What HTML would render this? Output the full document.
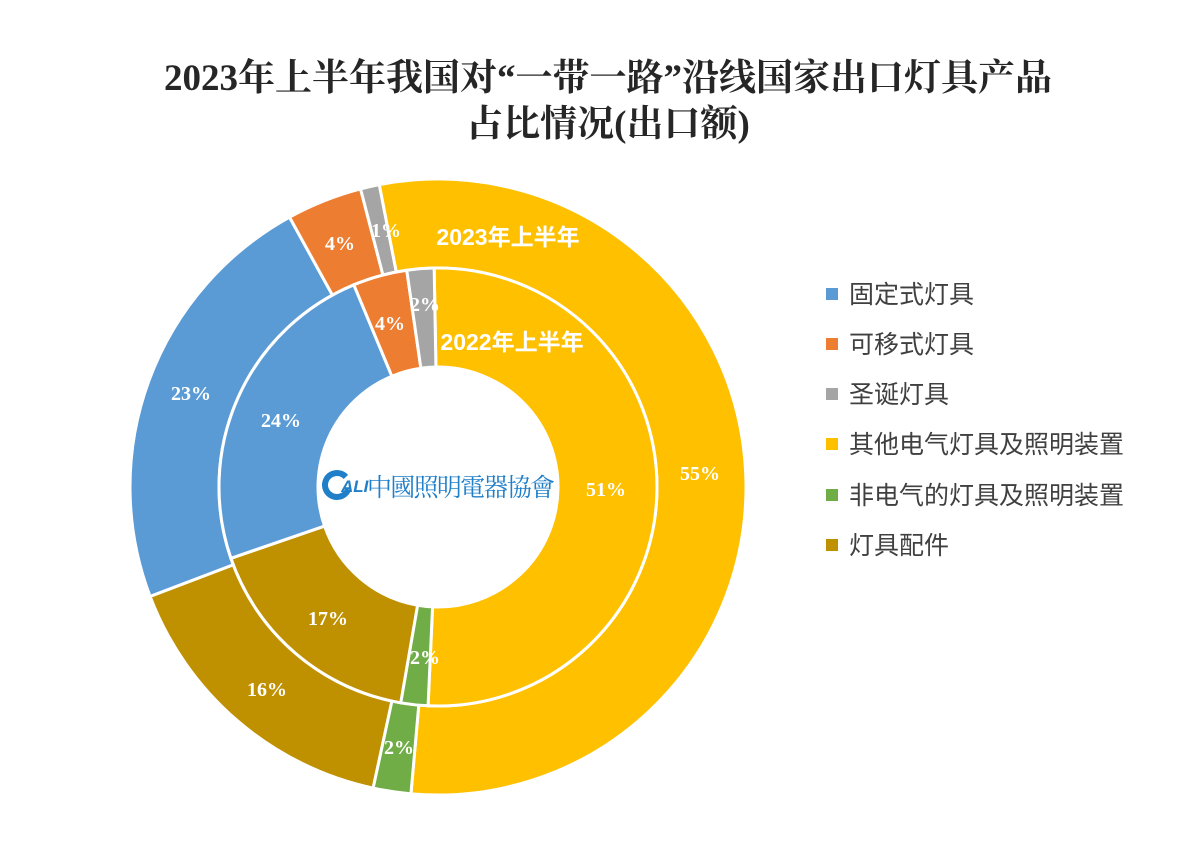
<!DOCTYPE html>
<html><head><meta charset="utf-8"><style>
html,body{margin:0;padding:0;background:#fff;width:1181px;height:862px;overflow:hidden}
</style></head><body>
<svg id="s" width="1181" height="862" xmlns="http://www.w3.org/2000/svg">
<text x="608" y="90" text-anchor="middle" font-family="Liberation Serif,Noto Serif CJK SC,serif" font-weight="bold" font-size="37" fill="#262626">2023年上半年我国对“一带一路”沿线国家出口灯具产品</text>
<text x="608" y="136" text-anchor="middle" font-family="Liberation Serif,Noto Serif CJK SC,serif" font-weight="bold" font-size="37" fill="#262626">占比情况(出口额)</text>
<g id="rings"></g>
<g font-family="Liberation Serif,Noto Serif CJK SC,serif" font-weight="bold" font-size="20" fill="#fff" text-anchor="middle">
<text x="700" y="480">55%</text>
<text x="606" y="496">51%</text>
<text x="191" y="400">23%</text>
<text x="281" y="427">24%</text>
<text x="340" y="250">4%</text>
<text x="390" y="330">4%</text>
<text x="386" y="237">1%</text>
<text x="425" y="311">2%</text>
<text x="328" y="625">17%</text>
<text x="267" y="696">16%</text>
<text x="425" y="664">2%</text>
<text x="399" y="754">2%</text>
</g>
<g font-family="Liberation Sans,Noto Sans CJK SC,sans-serif" font-weight="bold" font-size="23" fill="#fff" text-anchor="middle">
<text x="508" y="245">2023年上半年</text>
<text x="512" y="350">2022年上半年</text>
</g>
<circle cx="337" cy="485" r="12" fill="none" stroke="#1f7fc8" stroke-width="6" stroke-dasharray="62 14" transform="rotate(20 337 485)"/>
<text x="341" y="492" font-family="Liberation Sans,sans-serif" font-weight="bold" font-style="italic" font-size="17" fill="#1f7fc8">ALI</text>
<text x="367" y="496" font-family="Liberation Serif,Noto Serif CJK TC,serif" font-size="25" fill="#1f7fc8" textLength="188">中國照明電器協會</text>
<g font-family="Liberation Sans,Noto Sans CJK SC,sans-serif" font-size="25" fill="#404040">
<rect x="826" y="288" width="12" height="12" fill="#5b9bd5"/><text x="849" y="303">固定式灯具</text>
<rect x="826" y="338" width="12" height="12" fill="#ed7d31"/><text x="849" y="353">可移式灯具</text>
<rect x="826" y="388" width="12" height="12" fill="#a5a5a5"/><text x="849" y="403">圣诞灯具</text>
<rect x="826" y="438" width="12" height="12" fill="#ffc000"/><text x="849" y="453">其他电气灯具及照明装置</text>
<rect x="826" y="489" width="12" height="12" fill="#70ad47"/><text x="849" y="504">非电气的灯具及照明装置</text>
<rect x="826" y="539" width="12" height="12" fill="#bf9000"/><text x="849" y="554">灯具配件</text>
</g>
</svg>
<script>
var cx=438,cy=487,g=document.getElementById('rings');
function pt(r,a){a=(a-90)*Math.PI/180;return [cx+r*Math.cos(a),cy+r*Math.sin(a)];}
function arc(r0,r1,a0,a1,c){var l=(a1-a0)>180?1:0,p=pt(r1,a0),q=pt(r1,a1),s=pt(r0,a1),t=pt(r0,a0);
var d='M'+p+' A'+r1+','+r1+' 0 '+l+' 1 '+q+' L'+s+' A'+r0+','+r0+' 0 '+l+' 0 '+t+'Z';
var e=document.createElementNS('http://www.w3.org/2000/svg','path');e.setAttribute('d',d);e.setAttribute('fill',c);e.setAttribute('stroke','#fff');e.setAttribute('stroke-width','3');g.appendChild(e);}
var cols=['#ffc000','#70ad47','#bf9000','#5b9bd5','#ed7d31','#a5a5a5'];
function ring(r0,r1,start,vals){var s=0;vals.forEach(function(v){s+=v});var a=start;vals.forEach(function(v,i){var b=a+v/s*360;arc(r0,r1,a,b,cols[i]);a=b;});}
ring(219,308,-11,[55,2,16,23,4,1]);
ring(120,219,-1,[51,2,17,24,4,2]);
</script>
</body></html>
